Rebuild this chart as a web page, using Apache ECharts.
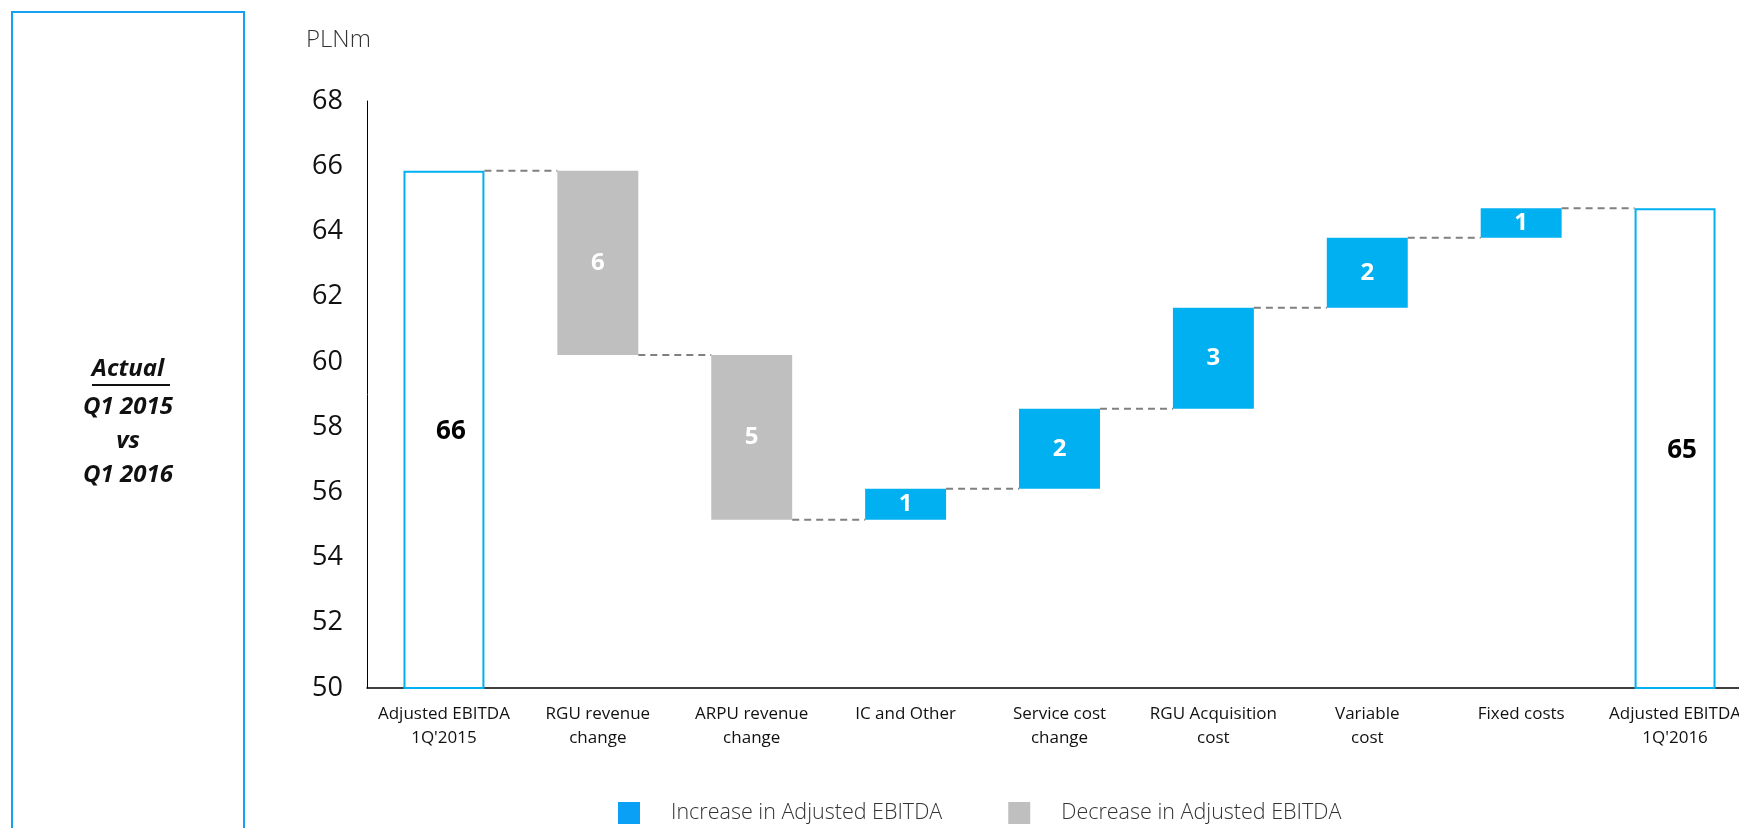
<!DOCTYPE html>
<html><head><meta charset="utf-8">
<script src="https://cdn.jsdelivr.net/npm/echarts@6/dist/echarts.min.js"></script>
<style>html,body{margin:0;padding:0;background:#fff;overflow:hidden}#c{width:1770px;height:828px}</style>
</head><body><div id="c"></div>
<script>
// ---- data ----
const categories = ["Adjusted EBITDA\n1Q'2015", "RGU revenue\nchange", "ARPU revenue\nchange", "IC and Other",
  "Service cost\nchange", "RGU Acquisition\ncost", "Variable\ncost", "Fixed costs", "Adjusted EBITDA\n1Q'2016"];
const startValue = 65.86;
const changes = [-5.65, -5.05, 0.95, 2.45, 3.1, 2.15, 0.9];
const yMin = 50, yMax = 68, yInterval = 2;
const unitLabel = 'PLNm';
const sideTitle = ['Actual', 'Q1 2015', 'vs', 'Q1 2016'];
const incName = 'Increase in Adjusted EBITDA';
const decName = 'Decrease in Adjusted EBITDA';

// ---- derived ----
const levels = [startValue];
changes.forEach(c => levels.push(levels[levels.length - 1] + c));
const endValue = levels[levels.length - 1];
const n = categories.length;
const baseData = [], incData = [], decData = [], totalData = [];
for (let i = 0; i < n; i++) {
  if (i === 0 || i === n - 1) {
    baseData.push('-'); incData.push('-'); decData.push('-');
    totalData.push(i === 0 ? startValue : endValue);
  } else {
    const c = changes[i - 1];
    baseData.push(Math.min(levels[i - 1], levels[i]));
    incData.push(c > 0 ? c : '-');
    decData.push(c < 0 ? -c : '-');
    totalData.push('-');
  }
}
const connData = [];
for (let i = 0; i < n - 1; i++) connData.push([i, levels[i]]);

const BAR_RATIO = 0.526;
const BLUE = '#00B0F0', GREY = '#BFBFBF';
const FONT = 'Open Sans';
const sideFont = 'italic bold 24px ' + FONT;

const chart = echarts.init(document.getElementById('c'));
chart.setOption({
  animation: false,
  textStyle: { fontFamily: FONT },
  grid: { left: 367, top: 101, bottom: 140, width: 1385 },
  xAxis: {
    type: 'category', data: categories,
    axisLine: { lineStyle: { color: '#000', width: 1.5 } },
    axisTick: { show: false },
    axisLabel: { fontSize: 17, color: '#111', lineHeight: 24, margin: 14, interval: 0, fontFamily: FONT }
  },
  yAxis: {
    type: 'value', min: yMin, max: yMax, interval: yInterval,
    axisLine: { show: true, lineStyle: { color: '#000', width: 1 } },
    axisTick: { show: false },
    splitLine: { show: false },
    axisLabel: { fontSize: 27, color: '#111', margin: 24, fontFamily: FONT }
  },
  legend: {
    left: 613, top: 797, itemWidth: 22, itemHeight: 22, itemGap: 66,
    icon: 'rect',
    textStyle: { fontSize: 21.5, color: '#333', fontFamily: FONT, fontWeight: 300, padding: [0, 0, 0, 26] },
    data: [{ name: incName, itemStyle: { color: '#0AA0F5' } }, { name: decName, itemStyle: { color: GREY } }]
  },
  graphic: [
    { type: 'rect', shape: { x: 12, y: 12, width: 232, height: 900 }, style: { fill: 'none', stroke: '#16A0F0', lineWidth: 2 } },
    { type: 'text', style: { text: sideTitle[0], x: 128, y: 369, textAlign: 'center', textVerticalAlign: 'middle', font: sideFont, fill: '#111' } },
    { type: 'line', shape: { x1: 92, y1: 385, x2: 170, y2: 385 }, style: { stroke: '#111', lineWidth: 2 } },
    { type: 'text', style: { text: sideTitle[1], x: 128, y: 407, textAlign: 'center', textVerticalAlign: 'middle', font: sideFont, fill: '#111' } },
    { type: 'text', style: { text: sideTitle[2], x: 128, y: 441, textAlign: 'center', textVerticalAlign: 'middle', font: sideFont, fill: '#111' } },
    { type: 'text', style: { text: sideTitle[3], x: 128, y: 475, textAlign: 'center', textVerticalAlign: 'middle', font: sideFont, fill: '#111' } },
    { type: 'text', style: { text: unitLabel, x: 306, y: 40, textVerticalAlign: 'middle', font: '300 24px ' + FONT, fill: '#333' } }
  ],
  series: [
    { name: 'base', type: 'bar', stack: 'w', barWidth: (BAR_RATIO * 100) + '%', data: baseData,
      itemStyle: { color: 'transparent' }, silent: true },
    { name: incName, type: 'bar', stack: 'w', data: incData, itemStyle: { color: BLUE },
      label: { show: true, position: 'inside', color: '#fff', fontWeight: 'bold', fontSize: 24, fontFamily: FONT,
        formatter: p => Math.round(p.value) } },
    { name: decName, type: 'bar', stack: 'w', data: decData, itemStyle: { color: GREY },
      label: { show: true, position: 'inside', color: '#fff', fontWeight: 'bold', fontSize: 24, fontFamily: FONT,
        formatter: p => Math.round(p.value) } },
    { name: 'total', type: 'bar', stack: 'w', data: totalData,
      itemStyle: { color: '#fff', borderColor: BLUE, borderWidth: 2 },
      label: { show: true, position: 'inside', offset: [7, 2], color: '#000', fontWeight: 'bold', fontSize: 26, fontFamily: FONT,
        formatter: p => Math.round(p.value) } },
    { name: 'conn', type: 'custom', data: connData, encode: { x: 0, y: 1 }, silent: true, z: 5,
      renderItem: (params, api) => {
        const p = api.coord([api.value(0), api.value(1)]);
        const w = api.size([1, 0])[0];
        const bw = w * BAR_RATIO;
        return { type: 'line', shape: { x1: p[0] + bw / 2, y1: p[1], x2: p[0] + w - bw / 2, y2: p[1] },
          style: { stroke: '#808080', lineWidth: 2, lineDash: [7, 5] } };
      } }
  ]
});
</script></body></html>
